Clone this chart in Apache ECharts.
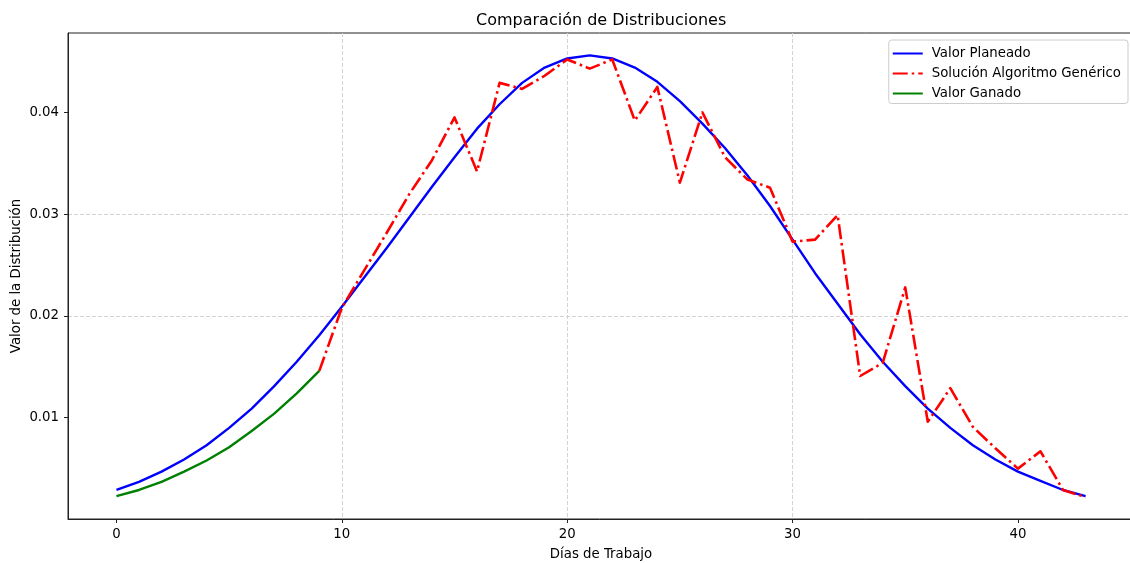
<!DOCTYPE html>
<html lang="es" style="height: 100%">
  <head>
    <meta charset="utf-8" />
  </head>
  <body style="height: 100%; margin: 0; background: #fff">
    <div id="container" style="width: 1130px; height: 563px"></div>

    <script
      type="text/javascript"
      src="https://fastly.jsdelivr.net/npm/echarts@6/dist/echarts.min.js"
    ></script>
    <script type="text/javascript">
      // dias de trabajo 0..43
      const dias = [
        0, 1, 2, 3, 4, 5, 6, 7, 8, 9, 10, 11, 12, 13, 14, 15, 16, 17, 18, 19, 20,
        21, 22, 23, 24, 25, 26, 27, 28, 29, 30, 31, 32, 33, 34, 35, 36, 37, 38,
        39, 40, 41, 42, 43,
      ];

      const valorPlaneado = [
        0.0029, 0.0037, 0.0047, 0.0059, 0.0073, 0.009, 0.0109, 0.0131, 0.0155,
        0.0181, 0.0209, 0.0238, 0.0267, 0.0297, 0.0327, 0.0356, 0.0384, 0.0408,
        0.0429, 0.0444, 0.0453, 0.0456, 0.0453, 0.0444, 0.043, 0.0411, 0.0389,
        0.0365, 0.0338, 0.0308, 0.0275, 0.0242, 0.0212, 0.0182, 0.0155, 0.0131,
        0.0109, 0.009, 0.0073, 0.0059, 0.0047, 0.0038, 0.0029, 0.0023,
      ];

      // empieza en el dia 9
      const inicioAlgoritmo = 9;
      const solucionAlgoritmo = [
        0.0146, 0.0208, 0.0245, 0.0282, 0.032, 0.0353, 0.0395, 0.0342, 0.0429,
        0.0423, 0.0436, 0.0452, 0.0443, 0.0452, 0.0392, 0.0425, 0.0331, 0.04,
        0.0356, 0.0334, 0.0326, 0.0273, 0.0275, 0.0299, 0.0141, 0.0154, 0.0228,
        0.0096, 0.0129, 0.0091, 0.007, 0.005, 0.0067, 0.0029, 0.0022,
      ];

      // dias 0..9
      const valorGanado = [
        0.0023, 0.0029, 0.0037, 0.0047, 0.0058, 0.0071, 0.0087, 0.0104, 0.0124,
        0.0146,
      ];

      const xTicks = [0, 10, 20, 30, 40];
      const yTicks = [0.01, 0.02, 0.03, 0.04];

      function pares(valores, inicio) {
        return valores.map((v, i) => [dias[inicio + i], v]);
      }

      var dom = document.getElementById("container");
      var myChart = echarts.init(dom, null, { renderer: "canvas" });

      const font = "DejaVu Sans";
      const gridLine = {
        show: true,
        showMinLine: false,
        showMaxLine: false,
        lineStyle: { color: "#d3d3d3", type: [4, 2], width: 1 },
      };

      var option = {
        animation: false,
        backgroundColor: "#ffffff",
        textStyle: { fontFamily: font },
        title: {
          text: "Comparación de Distribuciones",
          left: 476,
          top: 13,
          padding: 0,
          textStyle: {
            fontFamily: font,
            fontSize: 16,
            fontWeight: "normal",
            color: "#000",
          },
        },
        legend: {
          orient: "vertical",
          right: 2,
          top: 40,
          padding: [7, 7, 3.5, 3],
          itemGap: 7,
          itemWidth: 30,
          itemHeight: 14,
          backgroundColor: "#fff",
          borderColor: "#cccccc",
          borderWidth: 1,
          borderRadius: 3,
          itemStyle: { opacity: 0 },
          textStyle: {
            fontFamily: font,
            fontSize: 13.3,
            color: "#000",
            padding: [0, 0, 0, 4],
          },
          data: [
            "Valor Planeado",
            "Solución Algoritmo Genérico",
            "Valor Ganado",
          ],
        },
        grid: {
          left: 68,
          top: 33,
          width: 1066,
          height: 486,
          containLabel: false,
          outerBoundsMode: "none",
          show: true,
          borderColor: "#222",
          borderWidth: 1,
          backgroundColor: "transparent",
        },
        xAxis: {
          type: "value",
          min: -2.15,
          max: 45.15,
          name: "Días de Trabajo",
          nameLocation: "middle",
          nameGap: 29,
          nameMoveOverlap: false,
          nameTextStyle: { fontFamily: font, fontSize: 13.3, color: "#000" },
          axisLine: {
            show: true,
            onZero: false,
            lineStyle: { color: "#222", width: 1 },
          },
          axisTick: {
            show: true,
            length: 4,
            customValues: xTicks,
            lineStyle: { color: "#222" },
          },
          axisLabel: {
            show: true,
            margin: 9,
            fontFamily: font,
            fontSize: 13.3,
            color: "#000",
            customValues: xTicks,
            formatter: function (v) {
              return String(v);
            },
          },
          splitLine: gridLine,
        },
        yAxis: {
          type: "value",
          min: 0.00005,
          max: 0.0478,
          name: "Valor de la Distribución",
          nameLocation: "middle",
          nameGap: 45,
          nameMoveOverlap: false,
          nameTextStyle: { fontFamily: font, fontSize: 13.3, color: "#000" },
          axisLine: {
            show: true,
            onZero: false,
            lineStyle: { color: "#222", width: 1 },
          },
          axisTick: {
            show: true,
            length: 4,
            customValues: yTicks,
            lineStyle: { color: "#222" },
          },
          axisLabel: {
            show: true,
            margin: 9,
            fontFamily: font,
            fontSize: 13.3,
            color: "#000",
            customValues: yTicks,
            formatter: function (v) {
              return v.toFixed(2);
            },
          },
          splitLine: gridLine,
        },
        series: [
          {
            name: "Valor Planeado",
            type: "line",
            data: pares(valorPlaneado, 0),
            symbol: "none",
            showSymbol: false,
            z: 2,
            lineStyle: { color: "#0000ff", width: 2.4, join: "round" },
            itemStyle: { color: "#0000ff" },
          },
          {
            name: "Solución Algoritmo Genérico",
            type: "line",
            data: pares(solucionAlgoritmo, inicioAlgoritmo),
            symbol: "none",
            showSymbol: false,
            z: 3,
            lineStyle: {
              color: "#ff0000",
              width: 2.6,
              type: [15, 4, 2.5, 4],
              cap: "butt",
              join: "round",
            },
            itemStyle: { color: "#ff0000" },
          },
          {
            name: "Valor Ganado",
            type: "line",
            data: pares(valorGanado, 0),
            symbol: "none",
            showSymbol: false,
            z: 4,
            lineStyle: { color: "#008000", width: 2.4, join: "round" },
            itemStyle: { color: "#008000" },
          },
        ],
      };

      if (option && typeof option === "object") {
        myChart.setOption(option);
      }

      window.addEventListener("resize", myChart.resize);
    </script>
  </body>
</html>
